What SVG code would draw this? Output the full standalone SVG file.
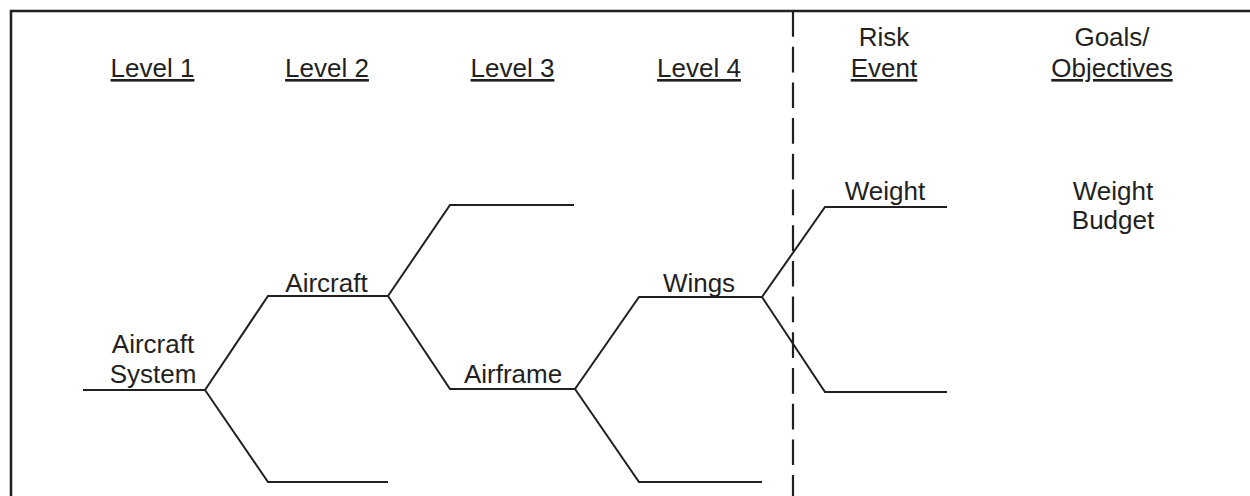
<svg xmlns="http://www.w3.org/2000/svg" width="1250" height="496" viewBox="0 0 1250 496">
<style>
  .t { font-family: "Liberation Sans", Arial, sans-serif; font-size: 26px; fill: #231f20; text-anchor: middle; }
  .u { text-decoration: underline; }
  .ln { fill: none; stroke: #231f20; stroke-width: 2; stroke-linejoin: miter; }
  .frame { fill: none; stroke: #231f20; stroke-width: 2.5; }
  .div { fill: none; stroke: #231f20; stroke-width: 2.2; stroke-dasharray: 25.7 10; }
</style>
<rect width="1250" height="496" fill="#ffffff"/>
<path class="frame" d="M11,496 V11 H1250"/>
<g id="headers">
  <text class="t u" x="152.5" y="77">Level 1</text>
  <text class="t u" x="327" y="77">Level 2</text>
  <text class="t u" x="512.5" y="77">Level 3</text>
  <text class="t u" x="699" y="77">Level 4</text>
  <text class="t" x="884" y="46">Risk</text>
  <text class="t u" x="884" y="77">Event</text>
  <text class="t" x="1112" y="46">Goals/</text>
  <text class="t u" x="1112" y="77">Objectives</text>
</g>
<g id="divider">
  <line class="div" x1="793" y1="11" x2="793" y2="496"/>
</g>
<g id="connectors">
  <path class="ln" d="M83,390 H205 L268,296 H388"/>
  <path class="ln" d="M205,390 L268,482 H388"/>
  <path class="ln" d="M388,296 L450,205 H574"/>
  <path class="ln" d="M388,296 L450,389 H575"/>
  <path class="ln" d="M575,389 L639,297 H762"/>
  <path class="ln" d="M575,389 L639,482 H762"/>
  <path class="ln" d="M762,297 L825,207 H947"/>
  <path class="ln" d="M762,297 L825,392 H947"/>
</g>
<g id="node-aircraft-system">
  <text class="t" x="153" y="353">Aircraft</text>
  <text class="t" x="153" y="383">System</text>
</g>
<g id="node-aircraft">
  <text class="t" x="326.5" y="292">Aircraft</text>
</g>
<g id="node-airframe">
  <text class="t" x="513" y="383">Airframe</text>
</g>
<g id="node-wings">
  <text class="t" x="699" y="292">Wings</text>
</g>
<g id="node-weight">
  <text class="t" x="885" y="200">Weight</text>
</g>
<g id="node-weight-budget">
  <text class="t" x="1113" y="200">Weight</text>
  <text class="t" x="1113" y="229">Budget</text>
</g>
</svg>
